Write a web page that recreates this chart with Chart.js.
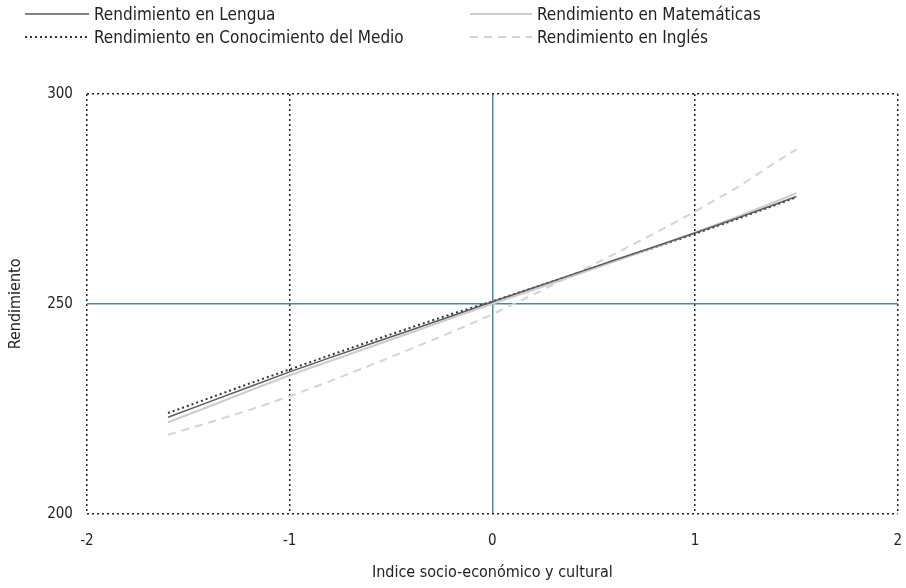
<!DOCTYPE html>
<html>
<head>
<meta charset="utf-8">
<script src="https://cdn.jsdelivr.net/npm/chart.js@4"></script>
<style>
  body { margin: 0; background: #fff; }
  #wrap { position: relative; width: 906px; height: 588px; overflow: hidden; }
  #legend { position: absolute; left: 0; top: 0; width: 906px; height: 50px;
    font-family: 'DejaVu Sans Condensed', 'Liberation Sans', sans-serif; font-size: 17px; color: #222; }
  .item { position: absolute; display: flex; align-items: center; height: 22px; white-space: nowrap; }
  .item svg { margin-right: 5px; }
</style>
</head>
<body>
<div id="wrap">
  <canvas id="chart"></canvas>
  <div id="legend"></div>
</div>
<script>
const xs = [-1.6, -1.4, -1.2, -1.0, -0.8, -0.6, -0.4, -0.2, 0, 0.2, 0.4, 0.6, 0.8, 1.0, 1.2, 1.4, 1.5];
const lengua = [223.0, 226.6, 230.2, 233.8, 237.2, 240.5, 243.8, 247.1, 250.5, 253.8, 257.1, 260.4, 263.6, 266.9, 270.3, 273.8, 275.6];
const matematicas = [221.8, 225.5, 229.3, 233.0, 236.4, 239.8, 243.2, 246.6, 250.0, 253.3, 256.7, 260.1, 263.5, 267.0, 270.6, 274.4, 276.4];
const conocimiento = [224.0, 227.5, 231.0, 234.4, 237.8, 241.1, 244.4, 247.6, 250.6, 253.8, 257.0, 260.2, 263.4, 266.7, 270.1, 273.6, 275.4];
const ingles = [218.8, 221.7, 224.7, 228.0, 231.6, 235.4, 239.3, 243.3, 247.5, 252.2, 257.0, 261.8, 266.8, 272.0, 277.5, 283.8, 286.8];
const xTicks = [-2, -1, 0, 1, 2];
const yTicks = [200, 250, 300];

const FONT = "'DejaVu Sans Condensed', 'Liberation Sans', sans-serif";
const BLUE = '#4f86ad';

function pts(vals) { return xs.map((x, i) => ({ x: x, y: vals[i] })); }

const series = [
  { label: 'Rendimiento en Lengua', data: lengua, color: '#5a5a5a', width: 1.5, dash: [], col: 0, row: 0 },
  { label: 'Rendimiento en Matemáticas', data: matematicas, color: '#cccccc', width: 2, dash: [], col: 1, row: 0 },
  { label: 'Rendimiento en Conocimiento del Medio', data: conocimiento, color: '#333333', width: 2, dash: [2, 3], col: 0, row: 1 },
  { label: 'Rendimiento en Inglés', data: ingles, color: '#d4d4d4', width: 2, dash: [8, 6], col: 1, row: 1 }
];

// legend built from the series list
const legend = document.getElementById('legend');
series.forEach(s => {
  const div = document.createElement('div');
  div.className = 'item';
  div.style.left = (s.col ? 470 : 25) + 'px';
  div.style.top = (s.row ? 26 : 3) + 'px';
  const w = s.col ? 62 : 64;
  div.innerHTML = '<svg width="' + w + '" height="6"><line x1="0" y1="3" x2="' + w + '" y2="3" stroke="' + s.color +
    '" stroke-width="' + s.width + '" stroke-dasharray="' + (s.dash.length ? s.dash.join(',') : 'none') + '"/></svg>' +
    '<span>' + s.label + '</span>';
  legend.appendChild(div);
});

const ctx = document.getElementById('chart');
ctx.width = 920; ctx.height = 588; // a bit wider than the window: chart.js keeps extra room on the right

new Chart(ctx, {
  type: 'line',
  data: {
    datasets: series.map(s => ({
      label: s.label,
      data: pts(s.data),
      borderColor: s.color,
      borderWidth: s.width,
      borderDash: s.dash,
      pointRadius: 0,
      fill: false,
      tension: 0
    }))
  },
  options: {
    responsive: false,
    animation: false,
    layout: { padding: { top: 94, right: 0, left: 6, bottom: 6 } },
    plugins: { legend: { display: false }, tooltip: { enabled: false } },
    scales: {
      x: {
        type: 'linear',
        min: -2, max: 2,
        afterBuildTicks: axis => { axis.ticks = xTicks.map(v => ({ value: v })); },
        grid: {
          color: c => c.tick && c.tick.value === 0 ? BLUE : '#222',
          lineWidth: 1.5,
          drawTicks: false
        },
        border: { display: false, dash: c => c.tick && c.tick.value === 0 ? [] : [2, 3] },
        ticks: { color: '#222', font: { family: FONT, size: 15 }, padding: 18 },
        title: { display: true, text: 'Indice socio-económico y cultural', color: '#222',
          font: { family: FONT, size: 16 }, padding: { top: -5, bottom: 0 } }
      },
      y: {
        min: 200, max: 300,
        afterBuildTicks: axis => { axis.ticks = yTicks.map(v => ({ value: v })); },
        grid: {
          color: c => c.tick && c.tick.value === 250 ? BLUE : '#222',
          lineWidth: 1.5,
          drawTicks: false
        },
        border: { display: false, dash: c => c.tick && c.tick.value === 250 ? [] : [2, 3] },
        ticks: { color: '#222', font: { family: FONT, size: 15 }, padding: 14 },
        title: { display: true, text: 'Rendimiento', color: '#222',
          font: { family: FONT, size: 16 }, padding: { top: 0, bottom: 8 } }
      }
    }
  }
});
</script>
</body>
</html>
